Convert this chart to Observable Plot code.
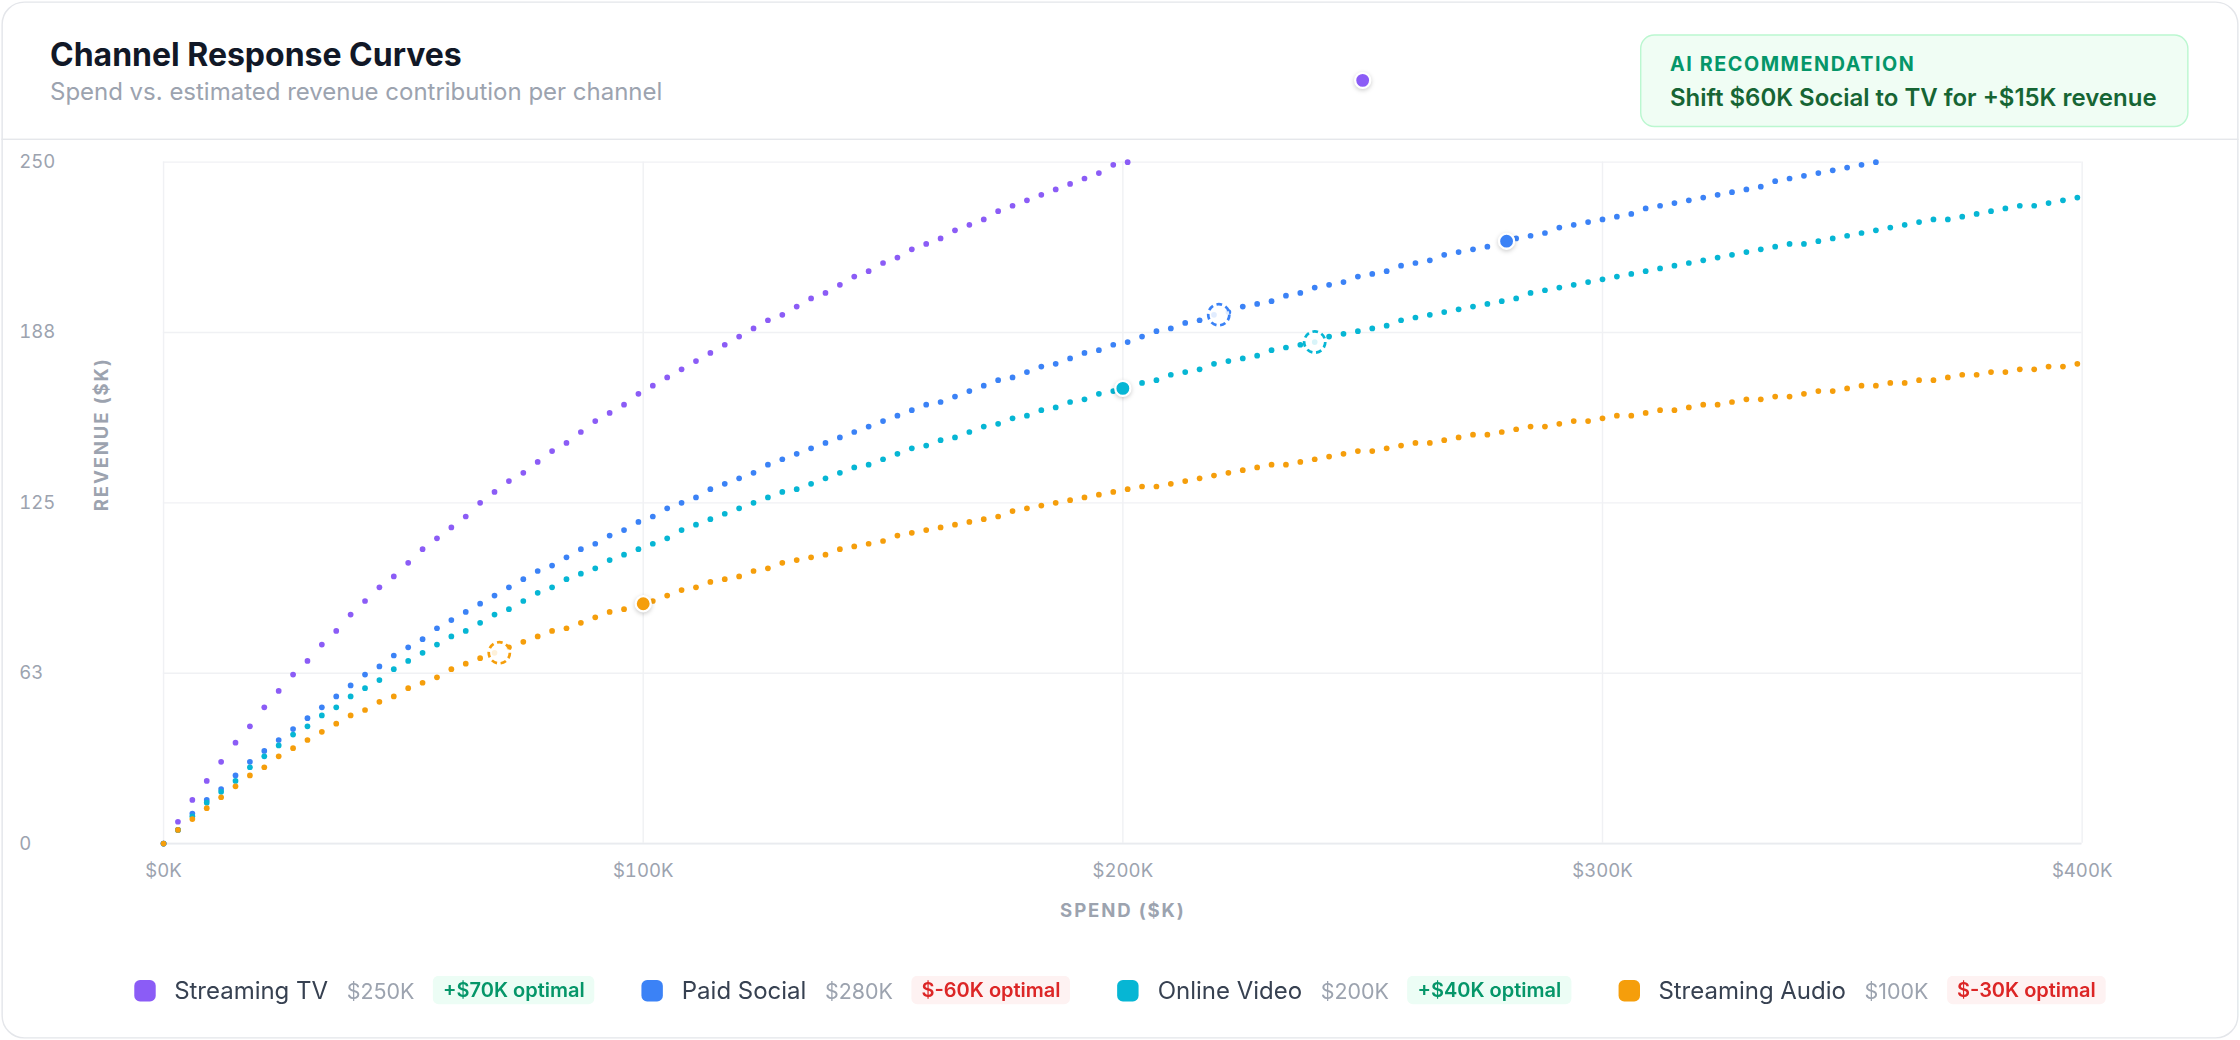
<!DOCTYPE html>
<html>
<head>
<meta charset="utf-8">
<script src="https://cdn.jsdelivr.net/npm/d3@7"></script>
<script src="https://cdn.jsdelivr.net/npm/@observablehq/plot@0.6"></script>
<style>
  html, body { margin: 0; padding: 0; background: #ffffff; }
  body { width: 2240px; height: 1040px; overflow: hidden; font-family: Inter, "Noto Sans", sans-serif; }
  #page { position: relative; width: 1568px; height: 728px; transform: scale(1.428571); transform-origin: 0 0; }
  #card { position: absolute; left: 1px; top: 1px; width: 1566px; height: 726px; box-sizing: border-box;
          border: 1px solid #e4e6ea; border-radius: 16px; background: #fff; }
  .abs { position: absolute; line-height: 1; white-space: nowrap; }
  #title { left: 35px; top: 27.3px; font-size: 22.4px; font-weight: 700; color: #111827; }
  #subtitle { left: 35px; top: 55.6px; font-size: 16.8px; color: #9ca3af; }
  #divider { left: 1px; top: 97px; width: 1566px; height: 1px; background: #e5e7eb; }
  #ai { left: 1148px; top: 24px; width: 384px; height: 65px; box-sizing: border-box; border: 1px solid #bbf7d0;
        background: #f0fdf4; border-radius: 10px; }
  #ai .lab { left: 20px; top: 14px; font-size: 13.8px; font-weight: 700; letter-spacing: 0.08em; color: #059669; }
  #ai .txt { left: 20px; top: 34.6px; font-size: 16.8px; font-weight: 600; color: #166534; }
  #chart { position: absolute; left: 0; top: 98px; }
  #legend { position: absolute; left: 0; width: 1568px; top: 683px; height: 20px; display: flex;
            justify-content: center; align-items: center; gap: 33px; }
  .item { display: flex; align-items: center; gap: 13px; }
  .sw { width: 15px; height: 15px; border-radius: 4px; }
  .nm { font-size: 16.8px; color: #374151; line-height: 1; }
  .val { font-size: 15px; color: #9ca3af; line-height: 1; }
  .badge { font-size: 14px; font-weight: 600; line-height: 14px; padding: 3px 7px; border-radius: 4px; }
  .pos { background: #ecfdf5; color: #059669; }
  .neg { background: #fef2f2; color: #dc2626; }
</style>
</head>
<body>
<div id="page">
  <div id="card"></div>
  <div class="abs" id="title">Channel Response Curves</div>
  <div class="abs" id="subtitle">Spend vs. estimated revenue contribution per channel</div>
  <div class="abs" id="divider"></div>
  <div class="abs" id="ai">
    <div class="abs lab">AI RECOMMENDATION</div>
    <div class="abs txt">Shift $60K Social to TV for +$15K revenue</div>
  </div>
  <div id="chart"></div>
  <div id="legend"></div>
</div>
<script>
// ---- data ----
const channels = ["Streaming TV", "Paid Social", "Online Video", "Streaming Audio"];
const colors = ["#8b5cf6", "#3b82f6", "#06b6d4", "#f59e0b"];
const currentSpend = [250, 280, 200, 100];
const currentRevenue = [280, 221, 167, 88];
const optimalDelta = [70, -60, 40, -30];
const optimalRevenue = [316, 194, 184, 70];
const xTicks = [0, 100, 200, 300, 400];
const yTicks = [0, 62.5, 125, 187.5, 250];

// spend sample points ($K)
const spend = [0,3,6,9,12,15,18,21,24,27,30,33,36,39,42,45,48,51,54,57,60,63,66,69,72,75,78,81,84,87,90,93,96,99,102,105,108,111,114,117,120,123,126,129,132,135,138,141,144,147,150,153,156,159,162,165,168,171,174,177,180,183,186,189,192,195,198,201,204,207,210,213,216,219,222,225,228,231,234,237,240,243,246,249,252,255,258,261,264,267,270,273,276,279,282,285,288,291,294,297,300,303,306,309,312,315,318,321,324,327,330,333,336,339,342,345,348,351,354,357,360,363,366,369,372,375,378,381,384,387,390,393,396,399];

// revenue ($K) per channel at each spend point (shown up to the 250 ceiling)
const streamingTV = [0,8,16,23,30,37,43,50,56,62,67,73,78,84,89,94,98,103,108,112,116,120,125,129,133,136,140,144,147,151,155,158,161,165,168,171,174,177,180,183,186,189,192,194,197,200,202,205,208,210,213,215,218,220,222,225,227,229,232,234,236,238,240,242,244,246,249,250];
const paidSocial = [0,5,11,16,20,25,30,34,38,42,46,50,54,58,62,65,69,72,75,79,82,85,88,91,94,97,100,102,105,108,110,113,115,118,120,123,125,127,130,132,134,136,139,141,143,145,147,149,151,153,155,157,159,161,162,164,166,168,170,171,173,175,176,178,180,181,183,184,186,188,189,191,192,194,195,197,198,199,201,202,204,205,206,208,209,210,212,213,214,216,217,218,219,221,222,223,224,226,227,228,229,230,231,233,234,235,236,237,238,239,240,241,243,244,245,246,247,248,249,250];
const onlineVideo = [0,5,10,15,19,23,28,32,36,40,43,47,50,54,57,60,64,67,70,73,76,78,81,84,86,89,92,94,97,99,101,104,106,108,110,112,115,117,119,121,123,125,127,129,130,132,134,136,138,139,141,143,145,146,148,149,151,153,154,156,157,159,160,162,163,165,166,167,169,170,172,173,174,176,177,178,179,181,182,183,184,186,187,188,189,190,192,193,194,195,196,197,198,199,200,202,203,204,205,206,207,208,209,210,211,212,213,214,215,216,217,218,219,220,220,221,222,223,224,225,226,227,228,229,229,230,231,232,233,234,234,235,236,237];
const streamingAudio = [0,5,9,13,17,21,25,28,32,35,38,41,44,47,49,52,54,57,59,61,64,66,68,70,72,74,76,78,79,81,83,85,86,88,89,91,93,94,96,97,98,100,101,103,104,105,106,108,109,110,111,113,114,115,116,117,118,119,120,122,123,124,125,126,127,128,129,130,131,131,132,133,134,135,136,137,138,139,139,140,141,142,143,144,144,145,146,147,147,148,149,150,150,151,152,153,153,154,155,155,156,157,157,158,159,159,160,161,161,162,163,163,164,164,165,166,166,167,168,168,169,169,170,170,171,172,172,173,173,174,174,175,175,176];

const series = [streamingTV, paidSocial, onlineVideo, streamingAudio];

// ---- tables built from the arrays ----
const curve = [];
series.forEach((vals, c) => vals.forEach((v, i) => curve.push({channel: channels[c], spend: spend[i], revenue: v})));
const current = channels.map((ch, i) => ({channel: ch, spend: currentSpend[i], revenue: currentRevenue[i]}));
const optimal = channels.map((ch, i) => ({channel: ch, spend: currentSpend[i] + optimalDelta[i], revenue: optimalRevenue[i]}));

const grid = "#f0f1f4";
const axisTitle = {fill: "#9ca3af", fontSize: 13, fontWeight: 700, textAnchor: "middle", lineAnchor: "middle"};
const chart = Plot.plot({
  width: 1568,
  height: 560,
  marginLeft: 114,
  marginRight: 111,
  marginTop: 15,
  marginBottom: 68,
  style: {fontFamily: "Inter, sans-serif", fontSize: "13px", overflow: "visible", background: "transparent"},
  x: {domain: [0, 400], ticks: xTicks},
  y: {domain: [0, 250], ticks: yTicks},
  color: {domain: channels, range: colors},
  marks: [
    Plot.gridX({ticks: xTicks, stroke: grid, strokeOpacity: 1, strokeWidth: 1}),
    Plot.gridY({ticks: yTicks, stroke: grid, strokeOpacity: 1, strokeWidth: 1}),
    Plot.ruleY([0], {stroke: "#e9ebef", strokeWidth: 1.2}),
    Plot.axisX({ticks: xTicks, tickFormat: d => `$${d}K`, tickSize: 0, tickPadding: 14, fill: "#9ca3af", fontSize: 13, label: null}),
    Plot.axisY({ticks: yTicks, tickFormat: d => String(Math.round(d)), tickSize: 0, tickPadding: 101, textAnchor: "start", fill: "#9ca3af", fontSize: 13, label: null}),
    Plot.text(["SPEND ($K)"], {frameAnchor: "bottom", dy: 47, ...axisTitle}),
    Plot.text(["REVENUE ($K)"], {frameAnchor: "left", dx: -43, dy: -48, rotate: -90, ...axisTitle}),
    Plot.dot(curve, {x: "spend", y: "revenue", fill: "channel", r: 2}),
    Plot.dot(optimal, {x: "spend", y: "revenue", stroke: "channel", r: 7.4, strokeWidth: 1.9, strokeDasharray: "4 2.6", fill: "white", fillOpacity: 0.85}),
    Plot.dot(current, {x: "spend", y: "revenue", fill: "channel", r: 5.3, stroke: "white", strokeWidth: 1.6})
  ]
});
chart.querySelectorAll('g[aria-label="text"] text').forEach(t => { t.style.letterSpacing = "0.1em"; });
const dotGroups = chart.querySelectorAll('g[aria-label="dot"]');
if (dotGroups.length) dotGroups[dotGroups.length - 1].style.filter = "drop-shadow(0 1px 1.5px rgba(0,0,0,0.2))";
document.getElementById("chart").appendChild(chart);

// ---- legend ----
const legend = document.getElementById("legend");
channels.forEach((ch, i) => {
  const item = document.createElement("div");
  item.className = "item";
  const d = optimalDelta[i];
  const badgeText = d >= 0 ? `+$${d}K optimal` : `$${d}K optimal`;
  item.innerHTML = `<span class="sw" style="background:${colors[i]}"></span>` +
    `<span class="nm">${ch}</span>` +
    `<span class="val">$${currentSpend[i]}K</span>` +
    `<span class="badge ${d >= 0 ? "pos" : "neg"}">${badgeText}</span>`;
  legend.appendChild(item);
});
</script>
</body>
</html>
